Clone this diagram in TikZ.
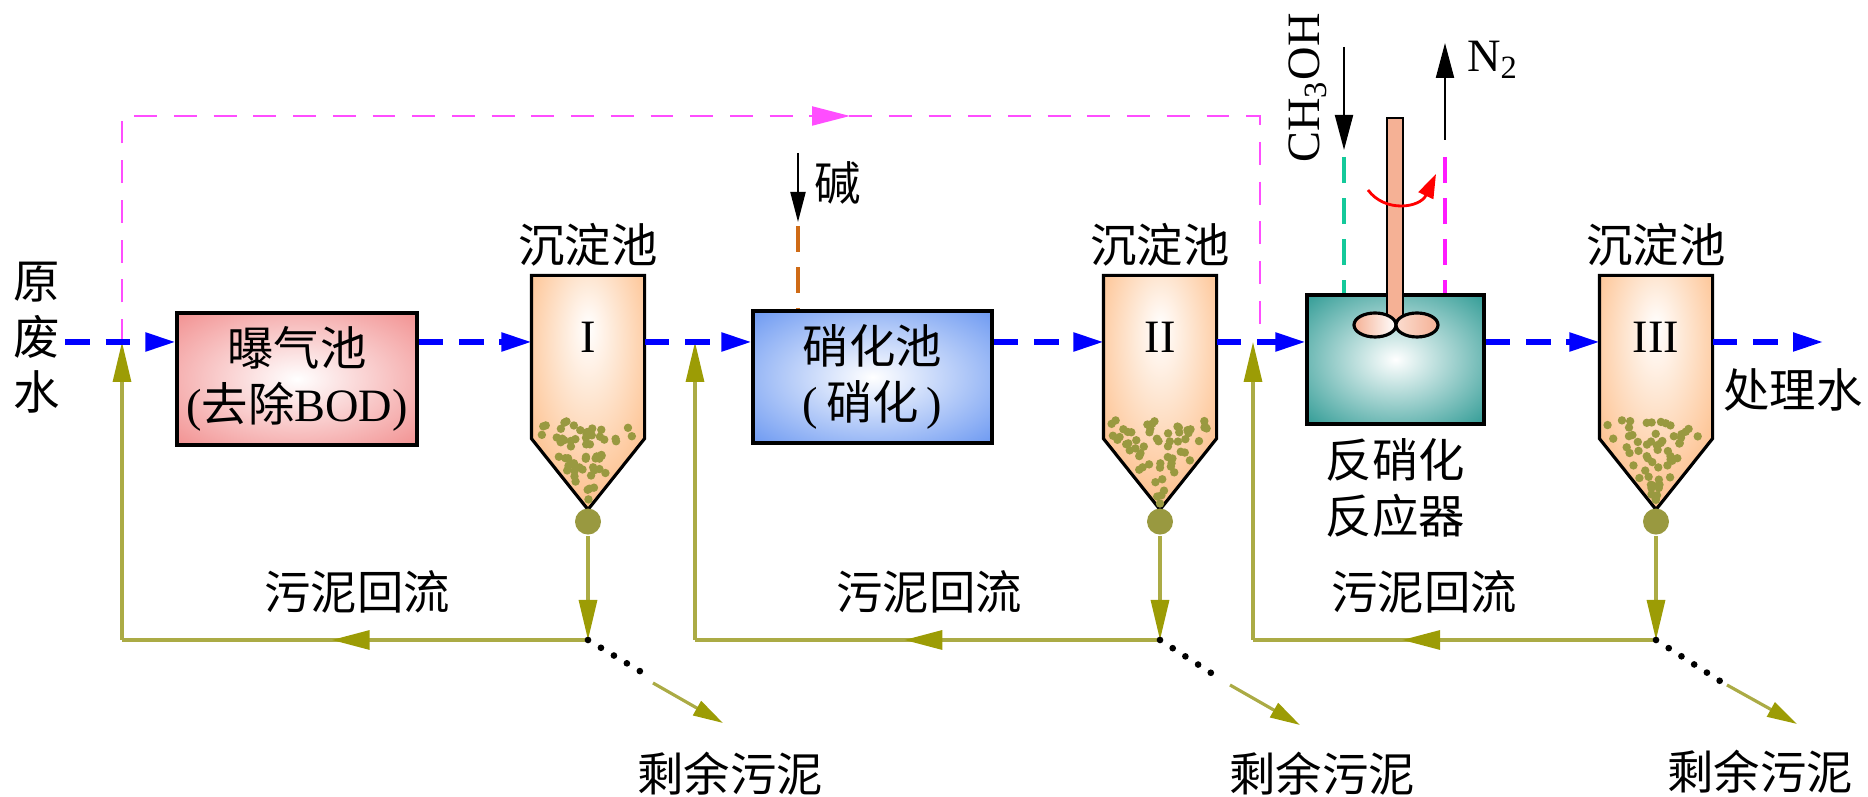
\documentclass[tikz,border=0pt]{standalone}
\usepackage{fontspec}
\setmainfont{Liberation Serif}
\newfontfamily\cjk{Noto Sans CJK SC}
\usetikzlibrary{arrows.meta, positioning, calc, decorations.markings}

\definecolor{cflow}{HTML}{0000FF}
\definecolor{cpink}{HTML}{FF4DFF}
\definecolor{cmag}{HTML}{FF1AFF}
\definecolor{cteal}{HTML}{14C99A}
\definecolor{corange}{HTML}{CF6B16}
\definecolor{colive}{HTML}{ABAB45}
\definecolor{ctip}{HTML}{9C9C05}
\definecolor{csed}{HTML}{999940}
\definecolor{caer}{HTML}{F08383}
\definecolor{cnit}{HTML}{5A8CF0}
\definecolor{cden}{HTML}{178F88}
\definecolor{cset}{HTML}{FDBA82}
\definecolor{cshaft}{HTML}{F5B195}

% glow shadings: white centre, coloured edges
\pgfdeclareradialshading{aerglow}{\pgfpoint{0bp}{0bp}}{color(0bp)=(white); color(40bp)=(caer); color(72bp)=(caer)}
\pgfdeclareradialshading{nitglow}{\pgfpoint{0bp}{0bp}}{color(0bp)=(white); color(40bp)=(cnit); color(72bp)=(cnit)}
\pgfdeclareradialshading{denglow}{\pgfpoint{0bp}{0bp}}{color(0bp)=(white); color(40bp)=(cden); color(72bp)=(cden)}
\pgfdeclareradialshading{setglow}{\pgfpoint{0bp}{14bp}}{color(0bp)=(white); color(36bp)=(cset); color(80bp)=(cset)}

\tikzset{
  every picture/.style={line width=0.9pt},
  cn/.style={font=\cjk\fontsize{13.2}{15.8}\selectfont, align=center, inner sep=1pt},
  rm/.style={font=\fontsize{13.2}{15.8}\selectfont, inner sep=1pt},
  tank/.style={draw=black, line width=0.9pt, inner sep=0pt, align=center, font=\cjk\fontsize{13.2}{15.8}\selectfont},
  aerbox/.style={tank, shading=aerglow, minimum width=24mm, minimum height=13.2mm},
  nitbox/.style={tank, shading=nitglow, minimum width=23.9mm, minimum height=13.2mm},
  denbox/.style={tank, shading=denglow, minimum width=17.7mm, minimum height=12.9mm},
  settler/.style={draw=black, line width=0.9pt, shading=setglow},
  flow/.style={draw=cflow, line width=1.5pt, dash pattern=on 7pt off 4.5pt, -{Triangle[length=3mm, width=1.8mm]}},
  recycle/.style={color=cpink, line width=0.6pt, dash pattern=on 6.5pt off 4.8pt},
  ret/.style={draw=colive, line width=0.9pt},
  rettip/.style={-{Triangle[length=4mm, width=1.8mm, color=ctip]}},
  midtip/.style 2 args={postaction={decorate}, decoration={markings,
      mark=at position #1 with {\arrow{Triangle[length=3.8mm, width=1.9mm, color=#2]}}}},
  waste/.style={line width=1.9pt, dash pattern=on 0pt off 4.3pt, line cap=round},
  wastetip/.style={ret, -{Triangle[length=3mm, width=1.6mm, color=ctip]}},
  dose/.style={line width=0.6pt, -{Triangle[length=3.5mm, width=1.8mm]}},
  pipe/.style={draw=#1, line width=1.3pt, dash pattern=on 7.4pt off 4.3pt},
  valve/.style={circle, fill=csed, inner sep=0pt, minimum size=2.6mm},
  sed/.style={fill=csed},
}

\begin{document}
\begin{tikzpicture}[x=0.1mm, y=-0.1mm]
  \useasboundingbox (0,0) rectangle (1868,797);

  % inflow, tanks and reactor
  \node[cn] (feed) at (37,338) {原\\废\\水};
  \coordinate (ja) at (122,342);
  \node[aerbox] (aer) at (297,379) {曝气池\\{\rmfamily(}去除{\rmfamily BOD)}};
  \node[nitbox] (nit) at (872.5,377) {硝化池\\{\rmfamily(\,}硝化{\rmfamily\,)}};
  \node[denbox] (den) at (1395.5,359.5) {};
  \node[cn, below=0.8mm of den] (denlab) {反硝化\\反应器};
  \node[cn] (water) at (1793,390) {处理水};
  \coordinate (outlet) at (1823,342);

  % settling tanks with sludge
  \pgfmathsetseed{11}
  \foreach \cx/\num/\nm in {588/I/sa, 1160/II/sb, 1656/III/sc}{
    \node[minimum width=11mm, minimum height=16mm, inner sep=0pt] (\nm) at (\cx,357) {};
    \draw[settler] (\nm.north west) -- (\nm.north east) -- (\nm.south east)
      -- ([yshift=-7.1mm]\nm.south) -- (\nm.south west) -- cycle;
    \foreach \i in {1,...,58}{
      \pgfmathsetmacro\dy{506-86*sqrt(rnd)}
      \pgfmathsetmacro\hw{max(0,min(49,55*(508-\dy)/71-6))}
      \pgfmathsetmacro\dx{\cx+(2*rnd-1)*\hw}
      \fill[sed] (\dx,\dy) circle[radius=0.42mm];
    }
    \node[rm] (\nm-lab) at (\cx,337) {\num};
    \node[cn, above=0.4mm of \nm] (\nm-top) {沉淀池};
    \node[valve] (\nm-v) at ([yshift=-8.3mm]\nm.south) {};
  }

  % stirrer
  \draw[line width=0.6pt, fill=cshaft] (1387,118) rectangle (1403,322);
  \draw[line width=0.9pt, left color=cshaft, right color=white] (1375,325) ellipse [x radius=2.1mm, y radius=1.2mm];
  \draw[line width=0.9pt, left color=cshaft!45, right color=cshaft] (1417,325) ellipse [x radius=2.1mm, y radius=1.2mm];
  \draw[red, line width=0.8pt, -{Triangle[length=2.4mm, width=1.6mm]}] (1368,190) .. controls (1385,213) and (1420,208) .. (1436,174);

  % dosing and off-gas
  \coordinate (atop) at (798,153);
  \coordinate (ain) at (798,222);
  \coordinate (adash) at (798,226);
  \draw[dose, -{Triangle[length=3mm, width=1.5mm]}] (atop) -- (ain);
  \draw[pipe=corange] (adash) -- (adash |- nit.north);
  \node[cn] (alk) at (838,183) {碱};

  \coordinate (mtop) at (1344,47);
  \coordinate (min) at (1344,150);
  \coordinate (mdash) at (1344,157);
  \draw[dose] (mtop) -- (min);
  \draw[pipe=cteal] (mdash) -- (mdash |- den.north);
  \node[rm, rotate=90] (meoh) at (1308,88) {CH\textsubscript{3}OH};

  \coordinate (nout) at (1445,43);
  \coordinate (nin) at (1445,140);
  \coordinate (ndash) at (1445,157);
  \draw[dose] (nin) -- (nout);
  \draw[pipe=cmag] (ndash) -- (ndash |- den.north);
  \node[rm, anchor=west] (ntwo) at (1462,60) {N\textsubscript{2}};

  % bypass to the denitrification reactor
  \coordinate (pa) at (122,116);
  \coordinate (pb) at (1260,116);
  \coordinate (pc) at (1260,342);
  \draw[recycle, midtip={0.6}{cpink}] (ja) -- (pa) -- (pb) -- (pc);

  % sludge return lines
  \coordinate (jb) at (695,342);
  \coordinate (jc) at (1253,342);
  \coordinate (ra) at (122,640);
  \coordinate (rb) at (695,640);
  \coordinate (rc) at (1253,640);
  \coordinate (ca) at (sa |- ra);
  \coordinate (cb) at (sb |- ra);
  \coordinate (cc) at (sc |- ra);

  \draw[ret, rettip] (sa-v) -- (ca);
  \draw[ret, midtip={0.55}{ctip}] (ca) -- (ra);
  \draw[ret, rettip] (ra) -- (ja);
  \draw[ret, rettip] (sb-v) -- (cb);
  \draw[ret, midtip={0.55}{ctip}] (cb) -- (rb);
  \draw[ret, rettip] (rb) -- (jb);
  \draw[ret, rettip] (sc-v) -- (cc);
  \draw[ret, midtip={0.63}{ctip}] (cc) -- (rc);
  \draw[ret, rettip] (rc) -- (jc);

  \node[cn] (backa) at (357,592) {污泥回流};
  \node[cn] (backb) at (929,592) {污泥回流};
  \node[cn] (backc) at (1424,592) {污泥回流};

  % excess sludge
  \coordinate (da) at (643,673);
  \coordinate (ea) at (653,683);
  \coordinate (fa) at (723,723);
  \coordinate (db) at (1222,680);
  \coordinate (eb) at (1230,685);
  \coordinate (fb) at (1300,725);
  \coordinate (dc) at (1720,681);
  \coordinate (ec) at (1727,685);
  \coordinate (fc) at (1797,724);
  \draw[waste] (ca) -- (da);
  \draw[wastetip] (ea) -- (fa);
  \draw[waste] (cb) -- (db);
  \draw[wastetip] (eb) -- (fb);
  \draw[waste] (cc) -- (dc);
  \draw[wastetip] (ec) -- (fc);
  \node[cn] (resta) at (730,774) {剩余污泥};
  \node[cn] (restb) at (1322,774) {剩余污泥};
  \node[cn] (restc) at (1760,772) {剩余污泥};

  % main water line
  \draw[flow] (feed.east |- ja) -- (aer.west |- ja);
  \draw[flow] (aer.east |- ja) -- (sa.west |- ja);
  \draw[flow] (sa.east |- ja) -- (nit.west |- ja);
  \draw[flow] (nit.east |- ja) -- (sb.west |- ja);
  \draw[flow] (sb.east |- ja) -- (den.west |- ja);
  \draw[flow] (den.east |- ja) -- (sc.west |- ja);
  \draw[flow] (sc.east |- ja) -- (outlet);
\end{tikzpicture}
\end{document}
